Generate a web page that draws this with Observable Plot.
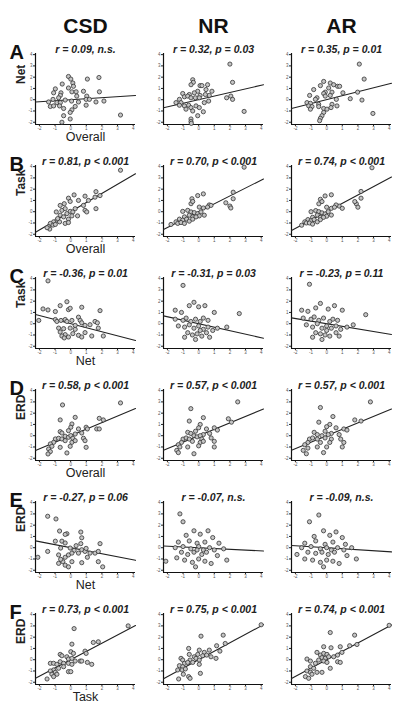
<!DOCTYPE html>
<html><head><meta charset="utf-8">
<script src="https://cdn.jsdelivr.net/npm/d3@7"></script>
<script src="https://cdn.jsdelivr.net/npm/@observablehq/plot@0.6"></script>
<style>body{margin:0;background:#fff}#chart{width:400px;height:712px}</style>
</head><body><div id="chart"></div>
<script>
const columns = ["CSD", "NR", "AR"];
const rows = ["A", "B", "C", "D", "E", "F"];
const yLabels = ["Net", "Task", "Task", "ERD", "ERD", "ERD"];
const xLabels = ["Overall", "Overall", "Net", "Overall", "Net", "Task"];
const rVals = [[0.09, 0.32, 0.35], [0.81, 0.70, 0.74], [-0.36, -0.31, -0.23], [0.58, 0.57, 0.57], [-0.27, -0.07, -0.09], [0.73, 0.75, 0.74]];
const pTexts = [["n.s.", "p = 0.03", "p = 0.01"], ["p < 0.001", "p < 0.001", "p < 0.001"], ["p = 0.01", "p = 0.03", "p = 0.11"], ["p < 0.001", "p < 0.001", "p < 0.001"], ["p = 0.06", "n.s.", "n.s."], ["p < 0.001", "p < 0.001", "p < 0.001"]];
const tickValues = [-2, -1, 0, 1, 2, 3, 4];
const xDomain = [-2.25, 4.15];
const yDomain = [-2.2, 4.1];

const A_CSD = [[-0.14,2.06],[0.01,1.83],[0.14,1.48],[1.81,1.97],[1.07,1.83],[-0.54,1.39],[-0.14,1.04],[0.18,1.19],[-0.98,0.96],[-1.09,0.61],[-0.62,0.61],[0.08,0.7],[0.35,0.7],[0.82,0.75],[1.84,0.7],[-0.66,0.38],[-0.77,0.17],[1.03,0.32],[-1.41,-0.2],[-1.13,0.03],[-0.88,-0.26],[-0.66,-0.26],[-0.35,-0.03],[0.06,-0.12],[0.5,-0.2],[0.99,0.03],[1.2,0.03],[1.62,-0.2],[2.13,-0.12],[-1.3,-0.6],[-1.09,-0.55],[-0.71,-0.55],[-0.45,-0.78],[0.08,-0.9],[0.29,-0.6],[-0.03,-1.13],[-0.45,-1.42],[-0.03,-1.71],[-0.56,-2.0],[3.19,-1.36],[0.99,-0.49],[0.39,0.32]];
const A_NR = [[2.0,3.16],[2.17,1.54],[-0.38,1.77],[-0.34,1.54],[-0.49,1.33],[0.09,1.25],[0.21,1.25],[0.57,1.33],[-0.06,0.75],[0.47,0.9],[0.85,0.75],[-1.02,0.55],[-0.6,0.46],[-0.28,0.61],[0.09,0.38],[0.68,0.38],[-1.23,0.03],[-0.91,0.26],[-0.7,0.32],[-0.49,0.17],[-0.21,0.17],[0.04,0.17],[0.43,0.46],[0.36,-0.26],[0.64,-0.12],[1.79,0.17],[2.06,0.32],[2.17,0.03],[-1.45,-0.26],[-1.13,-0.26],[-0.91,-0.55],[-0.64,-0.49],[-0.49,-0.7],[-0.17,-0.55],[-1.23,-0.49],[-0.38,-1.0],[0.04,-0.7],[0.3,-1.07],[-0.06,-1.42],[-0.49,-1.71],[-0.49,-1.94],[-0.47,-2.1],[2.91,-1.04],[-0.81,-0.84]];
const A_AR = [[2.09,3.16],[2.4,1.83],[-0.19,1.62],[0.23,1.48],[0.45,1.33],[0.7,1.19],[0.83,1.19],[-0.83,0.9],[-0.4,1.25],[0.13,1.04],[-0.09,0.67],[0.34,0.67],[1.04,0.61],[-1.09,0.38],[-0.19,0.55],[-0.09,0.32],[0.23,0.38],[-0.62,0.17],[-0.72,0.03],[-1.26,-0.26],[-1.04,-0.32],[-0.51,-0.41],[0.62,0.03],[1.51,0.09],[1.98,0.67],[2.26,-0.03],[-1.15,-0.55],[-0.94,-0.61],[-0.51,-0.61],[-0.19,-0.78],[0.02,-0.84],[0.34,-0.41],[0.28,-0.7],[-1.04,-0.84],[-0.19,-1.13],[-0.3,-1.42],[-0.4,-1.65],[-0.45,-1.86],[2.96,-1.22],[0.66,-0.55]];
const B_CSD = [[3.19,3.68],[1.62,1.78],[1.56,1.29],[1.88,1.43],[1.14,1.0],[0.92,1.38],[0.22,1.49],[-0.14,1.2],[-0.03,0.91],[0.5,1.0],[-0.41,0.71],[-0.67,0.56],[0.82,0.56],[-0.92,-0.02],[-0.56,0.12],[-0.35,0.27],[-0.03,0.03],[0.14,-0.02],[0.29,0.27],[0.92,0.12],[1.03,-0.02],[1.62,0.27],[-0.24,-0.17],[-0.67,-0.31],[-0.45,-0.46],[-0.14,-0.66],[-0.88,-0.75],[-0.71,-0.9],[-1.09,-0.9],[-1.3,-1.04],[-1.13,-1.19],[-1.41,-1.33],[-0.98,-1.13],[-0.35,-1.04],[-0.14,-0.96],[-1.34,-1.54],[-1.51,-1.42],[-0.83,-0.61],[0.44,-0.37],[0.08,-0.37]];
const B_NR = [[2.91,3.95],[2.21,1.73],[2.21,1.15],[1.74,0.79],[2.0,0.5],[2.06,0.33],[0.68,0.6],[0.79,0.56],[0.3,1.58],[-0.06,1.43],[-0.43,1.15],[-0.49,0.71],[-0.38,0.91],[0.04,0.41],[0.3,0.33],[0.57,0.41],[-1.02,0.03],[-0.7,0.12],[-0.49,-0.02],[-0.28,-0.08],[-0.06,-0.17],[0.15,-0.02],[0.04,-0.37],[0.36,-0.31],[-0.6,-0.31],[-0.38,-0.46],[-0.91,-0.46],[-1.23,-0.66],[-1.02,-0.75],[-0.77,-0.66],[-0.6,-0.84],[-1.45,-0.9],[-1.34,-1.04],[-1.13,-0.96],[-0.91,-1.04],[-1.77,-1.13],[-0.38,-0.66],[-0.17,-0.46]];
const B_AR = [[2.9,3.9],[2.2,1.8],[2.2,1.2],[1.9,0.7],[2.0,0.4],[1.8,0.9],[0.8,0.5],[0.6,0.6],[0.3,1.5],[-0.1,1.4],[-0.4,1.1],[-0.5,0.7],[-0.3,0.9],[0.0,0.4],[0.3,0.3],[0.5,0.4],[-1.0,0.0],[-0.7,0.1],[-0.5,0.0],[-0.3,-0.1],[-0.1,-0.2],[0.1,0.0],[0.0,-0.4],[0.3,-0.3],[-0.6,-0.3],[-0.4,-0.5],[-0.9,-0.5],[-1.2,-0.7],[-1.0,-0.8],[-0.8,-0.7],[-0.6,-0.9],[-1.4,-0.9],[-1.3,-1.0],[-1.1,-1.0],[-0.9,-1.1],[-0.4,-0.7],[-0.2,-0.5],[1.0,0.3],[-1.6,-1.2]];
const C_CSD = [[-1.45,3.8],[-1.77,1.31],[-1.45,1.22],[-0.98,1.08],[-0.67,1.6],[-0.24,1.95],[-0.14,1.25],[-0.03,1.37],[0.71,1.46],[1.88,1.16],[-2.04,0.29],[-0.98,0.37],[-0.88,0.2],[-0.62,0.29],[-0.35,0.37],[-0.24,0.2],[0.08,0.29],[0.5,0.58],[0.61,0.29],[0.71,0.08],[0.92,-0.15],[1.56,0.2],[1.71,0.08],[1.24,-0.09],[1.77,-0.39],[-0.77,-0.39],[-0.45,-0.44],[-0.03,-0.39],[0.29,-0.5],[-0.67,-0.74],[-0.35,-0.97],[-0.14,-1.18],[0.14,-0.88],[0.5,-1.03],[0.71,-1.18],[0.92,-0.79],[1.35,-1.09],[2.09,-1.09],[-0.56,-1.09],[-0.41,-1.26],[0.29,-0.15]];
const C_NR = [[-1.0,3.4],[-1.5,1.2],[-1.1,1.0],[-0.6,1.6],[-0.3,1.9],[0.0,1.5],[0.4,1.6],[1.0,1.0],[2.6,0.9],[-1.5,0.4],[-1.0,0.3],[-0.8,0.5],[-0.5,0.2],[-0.2,0.4],[0.1,0.2],[0.3,0.5],[0.6,0.3],[-1.3,-0.2],[-0.9,-0.3],[-0.6,-0.1],[-0.3,-0.4],[0.0,-0.2],[0.3,-0.5],[0.6,-0.3],[0.9,-0.6],[1.2,-0.4],[-0.7,-0.8],[-0.4,-1.0],[-0.1,-0.9],[0.2,-1.1],[0.5,-0.8],[-0.9,-1.2],[-0.2,-1.4],[0.7,-1.2],[1.8,-0.3],[0.1,-0.6]];
const C_AR = [[-1.1,3.5],[-1.6,1.2],[-1.2,1.1],[-0.7,1.4],[-0.4,1.8],[0.1,1.3],[0.5,1.6],[1.0,1.2],[2.5,0.8],[-1.5,0.5],[-1.0,0.4],[-0.8,0.6],[-0.5,0.3],[-0.2,0.5],[0.2,0.2],[0.4,0.4],[0.7,0.3],[-1.3,-0.1],[-0.9,-0.3],[-0.6,0.0],[-0.3,-0.4],[0.0,-0.2],[0.3,-0.4],[0.6,-0.2],[0.9,-0.5],[1.3,-0.3],[-0.7,-0.8],[-0.4,-0.9],[-0.1,-1.0],[0.2,-1.1],[0.6,-0.8],[-0.9,-1.2],[-0.3,-1.4],[0.8,-1.1],[1.7,-0.1],[0.0,-0.6]];
const D_CSD = [[3.19,2.91],[-0.52,2.73],[1.83,1.54],[2.09,1.4],[-0.67,1.4],[0.29,1.63],[0.08,1.04],[0.01,0.75],[-0.14,0.45],[0.5,0.6],[0.99,0.75],[1.07,0.6],[1.67,0.6],[1.83,0.6],[-0.67,0.36],[-0.56,0.24],[0.29,0.15],[0.71,0.24],[-0.98,-0.29],[-0.77,-0.23],[-0.56,-0.29],[-0.35,-0.05],[-0.14,-0.14],[0.01,0.01],[0.14,-0.23],[-0.35,-0.44],[0.08,-0.59],[0.82,-0.23],[0.92,-0.44],[-1.09,-0.59],[-1.3,-0.73],[-1.2,-0.94],[-0.67,-1.03],[-0.03,-0.94],[0.99,-1.03],[-1.41,-1.18],[-1.3,-1.41],[-1.45,-1.62],[-0.24,-1.53],[0.29,-0.44]];
const D_NR = [[2.5,3.0],[-0.5,2.4],[1.9,1.5],[2.1,1.2],[-0.6,1.3],[0.3,1.6],[0.1,1.0],[0.0,0.7],[-0.2,0.4],[0.5,0.6],[1.0,0.7],[1.2,0.5],[-0.7,0.3],[-0.5,0.2],[0.3,0.1],[0.7,0.2],[-1.0,-0.3],[-0.8,-0.2],[-0.6,-0.3],[-0.3,0.0],[-0.1,-0.1],[0.1,0.0],[0.2,-0.3],[-0.4,-0.5],[0.1,-0.6],[0.8,-0.2],[1.0,-0.5],[-1.1,-0.6],[-1.3,-0.8],[-1.2,-1.0],[-0.7,-1.0],[0.0,-0.9],[1.0,-1.0],[-1.4,-1.3],[-1.3,-1.5],[-0.3,-1.6],[0.3,-0.5]];
const D_AR = [[2.8,3.0],[-0.4,2.5],[1.8,1.4],[2.2,1.3],[-0.5,1.2],[0.4,1.7],[0.2,1.0],[0.0,0.8],[-0.1,0.4],[0.6,0.7],[1.1,0.6],[1.3,0.5],[-0.8,0.3],[-0.6,0.1],[0.3,0.2],[0.8,0.1],[-1.1,-0.3],[-0.9,-0.2],[-0.6,-0.3],[-0.3,0.0],[-0.1,-0.2],[0.1,0.1],[0.3,-0.3],[-0.4,-0.6],[0.2,-0.6],[0.9,-0.3],[1.1,-0.6],[-1.2,-0.6],[-1.4,-0.8],[-1.2,-1.1],[-0.6,-1.0],[0.0,-1.0],[1.0,-1.0],[-1.5,-1.3],[-1.3,-1.6],[-0.2,-1.5]];
const E_CSD = [[-1.47,2.79],[-0.94,2.55],[-0.71,1.48],[-0.24,1.24],[-0.35,1.18],[0.65,1.39],[0.71,0.88],[-0.98,0.58],[-0.56,0.58],[-0.35,0.42],[0.65,0.36],[0.35,0.18],[1.88,0.36],[-1.47,-0.33],[-0.64,-0.03],[-0.03,-0.03],[0.22,-0.24],[0.5,-0.48],[0.71,-0.18],[0.92,-0.33],[1.24,-0.48],[1.56,-0.48],[1.77,-0.33],[-2.1,-0.85],[-0.77,-0.64],[-0.35,-0.85],[-0.14,-0.64],[0.08,-0.48],[1.07,-0.85],[-0.5,-1.24],[-0.35,-1.55],[-0.14,-1.7],[-0.77,-1.39],[0.08,-1.24],[0.71,-1.33],[1.77,-1.24],[2.05,-1.7],[-0.64,-1.03],[0.99,-0.06]];
const E_NR = [[-1.2,3.0],[-1.0,2.3],[-0.3,1.5],[0.6,1.5],[-0.8,1.1],[0.1,1.2],[0.9,0.9],[-1.3,0.5],[-0.6,0.6],[-0.1,0.4],[0.4,0.5],[1.3,0.4],[-1.5,0.0],[-1.0,0.1],[-0.5,-0.1],[0.0,0.1],[0.3,-0.2],[0.7,0.0],[1.0,-0.2],[1.6,-0.1],[-2.1,-1.2],[-1.1,-0.4],[-0.7,-0.6],[-0.3,-0.4],[0.2,-0.6],[0.5,-0.4],[1.2,-0.7],[-0.9,-1.1],[-0.4,-1.3],[0.0,-1.0],[0.4,-1.2],[0.8,-1.4],[-0.2,-1.7],[-1.4,-0.9],[1.8,-1.1],[-0.1,-0.2]];
const E_AR = [[-0.5,2.9],[-1.1,2.3],[-0.2,1.5],[0.6,1.4],[-0.8,1.0],[0.2,1.1],[1.0,0.9],[-1.4,0.4],[-0.7,0.6],[-0.1,0.3],[0.4,0.5],[1.2,0.3],[-1.6,0.0],[-1.0,0.1],[-0.4,-0.1],[0.0,0.0],[0.3,-0.2],[0.7,0.0],[1.1,-0.2],[1.6,0.0],[-1.9,-0.6],[-1.2,-0.4],[-0.7,-0.5],[-0.3,-0.4],[0.1,-0.6],[0.5,-0.4],[1.3,-0.7],[-0.9,-1.1],[-0.4,-1.3],[0.0,-1.1],[0.4,-1.2],[0.8,-1.4],[-0.2,-1.7],[-1.4,-1.0],[1.9,-1.0]];
const F_CSD = [[3.68,3.0],[0.22,2.76],[1.77,1.59],[1.45,1.53],[0.08,1.38],[0.92,0.76],[0.99,0.56],[-0.67,0.47],[-0.56,0.35],[-0.24,0.26],[0.01,0.71],[0.18,0.56],[-0.14,0.06],[0.08,0.12],[0.29,-0.12],[0.61,-0.12],[0.71,-0.12],[-1.3,-0.32],[-1.09,-0.32],[-0.88,-0.41],[-0.67,-0.18],[-0.45,-0.32],[-0.14,-0.32],[0.08,-0.41],[1.07,-0.24],[1.35,-0.41],[-1.09,-0.91],[-1.3,-1.0],[-0.98,-1.12],[-1.2,-1.29],[-0.88,-1.29],[-0.14,-1.06],[0.01,-1.06],[-1.51,-1.71],[-1.09,-1.5],[-0.77,-0.76],[-0.45,-0.62]];
const F_NR = [[4.0,3.1],[0.15,2.09],[1.57,2.18],[1.15,1.24],[1.7,1.44],[1.36,0.76],[-0.64,1.0],[0.04,0.85],[0.36,0.65],[0.68,0.85],[-0.6,0.47],[-0.06,0.47],[-0.28,0.26],[0.26,0.35],[0.51,0.41],[0.79,0.26],[1.11,0.12],[-1.13,0.12],[-1.02,-0.03],[-0.55,-0.03],[-0.17,0.12],[0.04,-0.03],[-0.91,-0.32],[-0.7,-0.24],[-0.38,-0.24],[0.04,-0.41],[-1.23,-0.53],[-1.02,-0.62],[-1.34,-0.91],[-1.06,-0.91],[-0.85,-0.82],[-0.98,-1.29],[-0.64,-1.5],[-0.55,-1.65],[-1.28,-1.71],[0.11,-1.21]];
const F_AR = [[4.0,3.05],[0.23,2.41],[1.79,2.18],[1.94,1.35],[1.47,1.24],[0.87,1.15],[0.28,1.06],[-0.19,1.15],[-0.62,0.65],[-0.4,0.41],[-0.19,0.56],[0.02,0.47],[0.7,0.41],[0.98,0.65],[0.45,0.26],[-0.3,0.18],[-0.09,0.12],[0.13,0.26],[-1.26,0.06],[-1.04,-0.12],[-0.51,-0.03],[-0.19,-0.12],[0.02,-0.24],[0.7,-0.18],[0.87,-0.24],[-0.72,-0.32],[-1.04,-0.62],[-0.83,-0.76],[-1.26,-1.0],[-1.04,-1.12],[-0.62,-1.12],[-0.3,-1.12],[0.23,-0.76],[-1.36,-1.5],[-1.15,-1.65],[-0.94,-1.29]];

const panelData = {
  A: [A_CSD, A_NR, A_AR], B: [B_CSD, B_NR, B_AR], C: [C_CSD, C_NR, C_AR],
  D: [D_CSD, D_NR, D_AR], E: [E_CSD, E_NR, E_AR], F: [F_CSD, F_NR, F_AR]
};

const points = rows.flatMap(row => columns.flatMap((col, j) =>
  panelData[row][j].map(([x, y]) => ({row, col, x, y}))));
const panels = rows.flatMap((row, i) => columns.map((col, j) => ({
  row, col, r: rVals[i][j],
  title: `r = ${rVals[i][j].toFixed(2)}, ${pTexts[i][j]}`
})));
const fitLines = panels.flatMap(p => xDomain.map(x => ({row: p.row, col: p.col, key: p.row + p.col, x, y: p.r * x})));
const rowInfo = rows.map((row, i) => ({row, col: columns[0], yLabel: yLabels[i], xLabel: xLabels[i]}));
const colInfo = columns.map(col => ({col, row: rows[0]}));

const font = "Liberation Sans, Arial, Helvetica, sans-serif";
const chart = Plot.plot({
  width: 400, height: 712,
  marginTop: 50, marginBottom: 26, marginLeft: 35, marginRight: 9,
  style: {fontFamily: font, background: "#fff", color: "#000"},
  x: {domain: xDomain, axis: null},
  y: {domain: yDomain, axis: null},
  fx: {domain: columns, paddingInner: 0.22, paddingOuter: 0, axis: null},
  fy: {domain: rows, paddingInner: 0.37, paddingOuter: 0, axis: null},
  marks: [
    Plot.axisX({ticks: tickValues, tickFormat: d => d, tickSize: 2, tickPadding: 0, fontSize: 4.5, color: "#555", stroke: "#222", label: null, facetAnchor: null}),
    Plot.axisY({ticks: tickValues, tickFormat: d => d, tickSize: 2, tickPadding: 1, fontSize: 4.5, color: "#555", stroke: "#222", label: null, facetAnchor: null}),
    Plot.ruleX([xDomain[0]], {stroke: "#111", strokeWidth: 1.2}),
    Plot.ruleY([yDomain[0]], {stroke: "#111", strokeWidth: 1.2}),
    Plot.line(fitLines, {x: "x", y: "y", z: "key", fx: "col", fy: "row", stroke: "#222", strokeWidth: 1.1}),
    Plot.dot(points, {x: "x", y: "y", fx: "col", fy: "row", r: 2.1, fill: "#c4c4c4", stroke: "#333", strokeWidth: 0.8}),
    Plot.text(panels, {fx: "col", fy: "row", text: "title", frameAnchor: "top", dy: -8, fontSize: 10.5, fontWeight: "bold", fontStyle: "italic", fill: "#222"}),
    Plot.text(colInfo, {fx: "col", fy: "row", text: "col", frameAnchor: "top", dy: -35, fontSize: 21, fontWeight: "bold", fill: "#111"}),
    Plot.text(rowInfo, {fx: "col", fy: "row", text: "row", frameAnchor: "top-left", dx: -26, dy: -9, fontSize: 20, fontWeight: "bold", fill: "#111"}),
    Plot.text(rowInfo, {fx: "col", fy: "row", text: "yLabel", frameAnchor: "left", dx: -14, dy: -5, rotate: -90, fontSize: 12, fontWeight: "bold", fill: "#222"}),
    Plot.text(rowInfo, {fx: "col", fy: "row", text: "xLabel", frameAnchor: "bottom", dy: 16, fontSize: 12.5, fill: "#222"})
  ]
});
document.getElementById("chart").appendChild(chart);
</script>
</body></html>
